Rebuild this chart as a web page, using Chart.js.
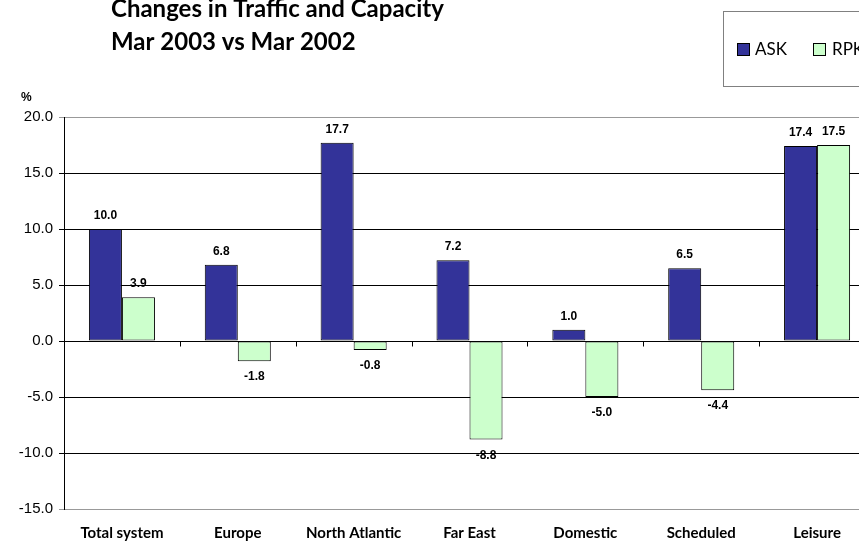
<!DOCTYPE html>
<html><head><meta charset="utf-8">
<script src="https://cdn.jsdelivr.net/npm/chart.js@4"></script>
<style>
html,body{margin:0;padding:0;overflow:hidden;background:#fff;width:859px;height:541px;}
#wrap{position:absolute;left:0;top:0;width:900px;height:541px;}
</style></head>
<body><div id="wrap"><canvas id="c" width="900" height="541"></canvas></div>
<script>
const categories = ["Total system","Europe","North Atlantic","Far East","Domestic","Scheduled","Leisure"];
const askValues = [10.0, 6.8, 17.7, 7.2, 1.0, 6.5, 17.4];
const rpkValues = [3.9, -1.8, -0.8, -8.8, -5.0, -4.4, 17.5];
const seriesNames = ["ASK","RPK"];
const titleLines = ["Changes in Traffic and Capacity","Mar 2003 vs Mar 2002"];
const yUnit = "%";

const decor = {
  id:'decor',
  afterDatasetsDraw(chart){
    const ctx = chart.ctx;
    const x = chart.scales.x, y = chart.scales.y;
    ctx.save();
    // ticks at zero line
    const y0 = Math.round(y.getPixelForValue(0)) + 0.5;
    ctx.strokeStyle = '#000'; ctx.lineWidth = 1;
    for (let i = 1; i < categories.length; i++) {
      const px = Math.round((x.getPixelForTick(i-1) + x.getPixelForTick(i)) / 2) + 0.5;
      ctx.beginPath(); ctx.moveTo(px, y0); ctx.lineTo(px, y0 + 5); ctx.stroke();
    }
    // data labels
    ctx.font = 'bold 12px "Liberation Sans", Arial, sans-serif';
    ctx.fillStyle = '#000'; ctx.textAlign = 'center'; ctx.textBaseline = 'alphabetic';
    chart.data.datasets.forEach((ds, di) => {
      const meta = chart.getDatasetMeta(di);
      meta.data.forEach((bar, i) => {
        const v = ds.data[i];
        const t = v.toFixed(1);
        if (v >= 0) ctx.fillText(t, bar.x, bar.y - 10);
        else ctx.fillText(t, bar.x, bar.y + 19);
      });
    });
    // title
    ctx.textAlign = 'left';
    ctx.font = 'bold 24px Lato, sans-serif';
    ctx.fillText(titleLines[0], 111, 17);
    ctx.fillText(titleLines[1], 111, 50);
    // unit
    ctx.font = 'bold 12px "Liberation Sans", Arial, sans-serif';
    ctx.fillText(yUnit, 21, 101);
    // legend
    ctx.fillStyle = '#fff';
    ctx.fillRect(723.5, 11.5, 200, 75);
    ctx.strokeStyle = '#808080';
    ctx.strokeRect(723.5, 11.5, 200, 75);
    const items = [[737, 755], [813, 832]];
    ctx.font = '17px Lato, sans-serif';
    ctx.textBaseline = 'middle';
    chart.data.datasets.forEach((ds, di) => {
      const [bx, tx] = items[di];
      ctx.fillStyle = ds.backgroundColor;
      ctx.fillRect(bx + 0.5, 43.5, 12, 12);
      ctx.strokeStyle = '#000';
      ctx.strokeRect(bx + 0.5, 43.5, 12, 12);
      ctx.fillStyle = '#000';
      ctx.fillText(ds.label, tx, 50);
    });
    ctx.restore();
  }
};

new Chart(document.getElementById('c'), {
  type: 'bar',
  data: {
    labels: categories,
    datasets: [
      {label: seriesNames[0], data: askValues, backgroundColor: '#333399', borderColor: '#000', borderWidth: 1, borderSkipped: false},
      {label: seriesNames[1], data: rpkValues, backgroundColor: '#CCFFCC', borderColor: '#000', borderWidth: 1, borderSkipped: false}
    ]
  },
  options: {
    responsive: false,
    animation: false,
    layout: {padding: {top: 117, right: 25, bottom: 0, left: 0}},
    datasets: {bar: {categoryPercentage: 0.57, barPercentage: 1.0}},
    plugins: {legend: {display: false}, title: {display: false}, tooltip: {enabled: false}},
    scales: {
      x: {
        grid: {display: false},
        border: {display: false},
        ticks: {font: {family: 'Lato', weight: 'bold', size: 15}, color: '#000', padding: 7, maxRotation: 0},
        afterFit(s){ s.height = 32; }
      },
      y: {
        min: -15, max: 20,
        ticks: {stepSize: 5, callback: v => v.toFixed(1), font: {family: '"Liberation Sans", Arial', size: 15}, color: '#000', padding: 6},
        grid: {color: c => (c.tick && (c.tick.value === 20 || c.tick.value === -15)) ? '#999' : '#000', tickLength: 5, lineWidth: 1},
        border: {color: '#000'},
        afterFit(s){ s.width = 64; }
      }
    }
  },
  plugins: [decor]
});
</script></body></html>
